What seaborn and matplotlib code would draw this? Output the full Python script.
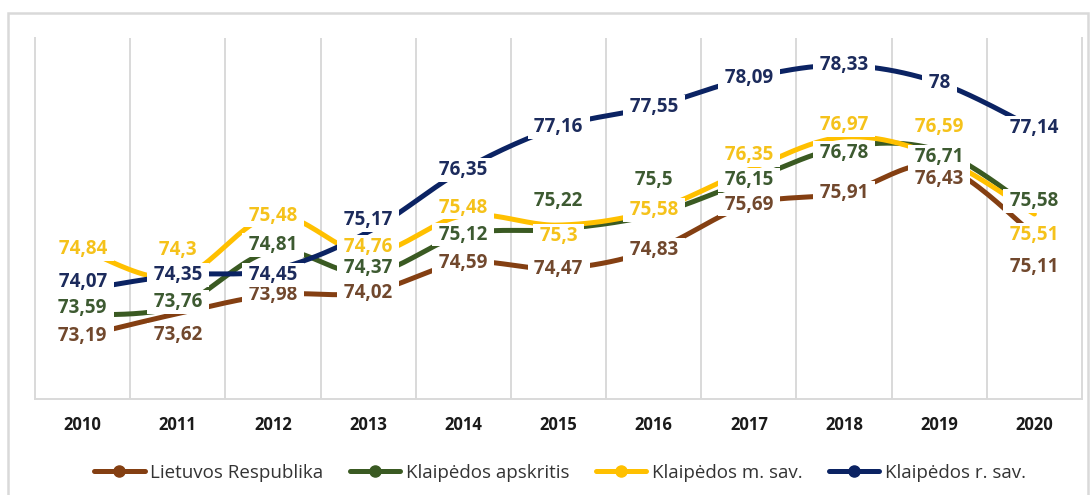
import numpy as np
import pandas as pd
import matplotlib
matplotlib.use("Agg")
import matplotlib.pyplot as plt
from matplotlib.lines import Line2D
from matplotlib.patches import Rectangle
import seaborn as sns

# Life expectancy, years
years = [2010, 2011, 2012, 2013, 2014, 2015, 2016, 2017, 2018, 2019, 2020]
lietuvos = [73.19, 73.62, 73.98, 74.02, 74.59, 74.47, 74.83, 75.69, 75.91, 76.43, 75.11]
apskritis = [73.59, 73.76, 74.81, 74.37, 75.12, 75.22, 75.50, 76.15, 76.78, 76.71, 75.58]
miesto = [74.84, 74.30, 75.48, 74.76, 75.48, 75.30, 75.58, 76.35, 76.97, 76.59, 75.51]
rajono = [74.07, 74.35, 74.45, 75.17, 76.35, 77.16, 77.55, 78.09, 78.33, 78.00, 77.14]

series_names = ["Lietuvos Respublika", "Klaipėdos apskritis",
                "Klaipėdos m. sav.", "Klaipėdos r. sav."]
series_values = [lietuvos, apskritis, miesto, rajono]

line_colors = {"Lietuvos Respublika": "#843f12",
               "Klaipėdos apskritis": "#3a5a22",
               "Klaipėdos m. sav.": "#ffc000",
               "Klaipėdos r. sav.": "#0b2363"}
text_colors = {"Lietuvos Respublika": "#71482d",
               "Klaipėdos apskritis": "#3d5a31",
               "Klaipėdos m. sav.": "#f5c21b",
               "Klaipėdos r. sav.": "#1c2b5c"}

# vertical shift of each value label away from its point (pixels, + is up)
label_shift = {"Lietuvos Respublika": [0, -21, 0, 0, 0, 0, 0, 0, 0, -13, -32],
               "Klaipėdos apskritis": [7, 4, 6, 6, 0, 28, 35, 0, -6, -6, 9],
               "Klaipėdos m. sav.": [0, 28, 0, 7, 8, -11, 0, 15, 12, 30, -21],
               "Klaipėdos r. sav.": [8, 0, -5, 12, 0, 0, 0, 0, 0, 0, 0]}


def smooth_curve(xs, ys, steps=24):
    """Cubic Bezier through every point with Catmull-Rom control points."""
    pts = np.column_stack([xs, ys]).astype(float)
    padded = np.vstack([pts[0], pts, pts[-1]])
    out = []
    t = np.linspace(0, 1, steps, endpoint=False)[:, None]
    for k in range(len(pts) - 1):
        p0, p1, p2, p3 = padded[k], padded[k + 1], padded[k + 2], padded[k + 3]
        c1 = p1 + (p2 - p0) / 6.0
        c2 = p2 - (p3 - p1) / 6.0
        seg = ((1 - t) ** 3) * p1 + 3 * ((1 - t) ** 2) * t * c1 \
            + 3 * (1 - t) * t ** 2 * c2 + t ** 3 * p2
        out.append(seg)
    out.append(pts[-1][None, :])
    return np.vstack(out)


def fmt(v):
    # spaces on both sides widen the white label box sideways only
    return " " + f"{v:g}".replace(".", ",") + " "


sns.set_theme(style="white")
plt.rcParams["font.family"] = ["Open Sans", "DejaVu Sans"]

W, H = 1092, 495
fig = plt.figure(figsize=(W / 100, H / 100), dpi=100)
fig.patch.set_facecolor("white")
ax = fig.add_axes([35 / W, 96 / H, 1047 / W, 361 / H])

xpos = np.arange(len(years))
frames = []
for name, vals in zip(series_names, series_values):
    curve = smooth_curve(xpos, vals)
    frames.append(pd.DataFrame({"x": curve[:, 0], "y": curve[:, 1], "series": name}))
dense = pd.concat(frames, ignore_index=True)

sns.lineplot(data=dense, x="x", y="y", hue="series", hue_order=series_names,
             palette=line_colors, sort=False, estimator=None, linewidth=3.6,
             legend=False, ax=ax, zorder=3)

for name, vals in zip(series_names, series_values):
    for i, v in enumerate(vals):
        ax.annotate(fmt(v), (xpos[i], v), xytext=(0, label_shift[name][i]),
                    textcoords="offset pixels", ha="center", va="center",
                    fontsize=13.5, fontweight="bold", color=text_colors[name],
                    bbox=dict(boxstyle="square,pad=0.1", fc="white", ec="none"),
                    zorder=5)

ax.set_xlim(-0.5, len(years) - 0.5)
ax.set_ylim(72, 78.85)
ax.set_yticks([])
ax.set_xticks(xpos)
ax.set_xticklabels([str(y) for y in years], fontsize=12, fontweight="bold",
                   color="#1a1a1a")
ax.set_xticks(np.arange(0.5, len(years) - 1, 1), minor=True)
ax.grid(False)
ax.grid(which="minor", axis="x", color="#d9d9d9", linewidth=1.4, zorder=0)
ax.tick_params(axis="x", which="both", length=0, pad=12)
ax.set_xlabel("")
ax.set_ylabel("")
for side in ("left", "right", "bottom"):
    ax.spines[side].set_color("#d9d9d9")
    ax.spines[side].set_linewidth(1.4)
ax.spines["top"].set_visible(False)

handles = [Line2D([0], [0], color=line_colors[n], lw=3.6, marker="o",
                  markersize=8, markerfacecolor=line_colors[n],
                  markeredgecolor=line_colors[n]) for n in series_names]
fig.legend(handles, series_names, loc="center", bbox_to_anchor=(560 / W, 1 - 473 / H),
           ncol=4, frameon=False, fontsize=13.5, handlelength=2.7,
           handletextpad=0.3, columnspacing=1.4, labelcolor="#333333")

fig.add_artist(Rectangle((8 / W, -0.05), (1088 - 8) / W, 0.05 + (H - 13) / H,
                         transform=fig.transFigure, fill=False,
                         edgecolor="#d9d9d9", linewidth=1.8))

fig.savefig("out.png", dpi=100, facecolor="white")
